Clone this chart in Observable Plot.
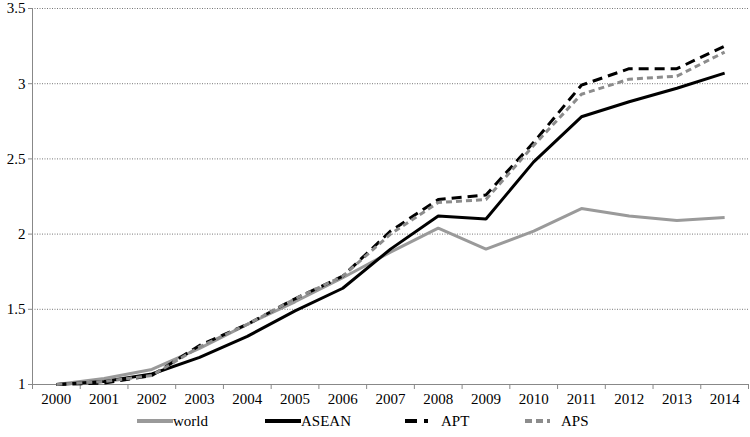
<!DOCTYPE html>
<html>
<head>
<meta charset="utf-8">
<script src="https://cdn.jsdelivr.net/npm/d3@7"></script>
<script src="https://cdn.jsdelivr.net/npm/@observablehq/plot@0.6"></script>
<style>
  body { margin: 0; background: #fff; }
  #wrap { position: relative; width: 750px; height: 437px; }
  #legend { position: absolute; left: 0; top: 410px; width: 750px; height: 27px; }
  .item { position: absolute; top: 1px; display: flex; align-items: center; color: #000; }
  .item svg { display: block; }
</style>
</head>
<body>
<div id="wrap">
  <div id="chart"></div>
  <div id="legend"></div>
</div>
<script>
const years = [2000, 2001, 2002, 2003, 2004, 2005, 2006, 2007, 2008, 2009, 2010, 2011, 2012, 2013, 2014];
const world = [1.00, 1.04, 1.10, 1.24, 1.40, 1.55, 1.71, 1.88, 2.04, 1.90, 2.02, 2.17, 2.12, 2.09, 2.11];
const asean = [1.00, 1.02, 1.07, 1.18, 1.32, 1.49, 1.64, 1.90, 2.12, 2.10, 2.48, 2.78, 2.88, 2.97, 3.07];
const apt   = [1.00, 1.01, 1.06, 1.26, 1.40, 1.57, 1.72, 2.02, 2.23, 2.26, 2.61, 2.99, 3.10, 3.10, 3.25];
const aps   = [1.00, 1.02, 1.06, 1.25, 1.40, 1.57, 1.72, 2.00, 2.21, 2.23, 2.59, 2.93, 3.03, 3.05, 3.21];
const yTicks = [1, 1.5, 2, 2.5, 3, 3.5];

const FONT = "Liberation Serif";
const seriesNames = ["world", "ASEAN", "APT", "APS"];
const seriesValues = [world, asean, apt, aps];
const styles = {
  world: {stroke: "#9a9a9a", dash: null},
  ASEAN: {stroke: "#000000", dash: null},
  APT:   {stroke: "#000000", dash: "10,6"},
  APS:   {stroke: "#8c8c8c", dash: "6,4"}
};

const boundaries = [...years.map(y => y - 0.5), years[years.length - 1] + 0.5];

const lineMarks = seriesNames.map((name, i) =>
  Plot.line(years.map((yr, j) => ({year: yr, value: seriesValues[i][j]})), {
    x: "year", y: "value",
    stroke: styles[name].stroke,
    strokeWidth: 3,
    strokeDasharray: styles[name].dash,
    strokeLinejoin: "miter",
    strokeLinecap: "butt"
  })
);

const chart = Plot.plot({
  width: 750,
  height: 410,
  marginTop: 8,
  marginBottom: 26,
  marginLeft: 32,
  marginRight: 2,
  style: {fontFamily: FONT, fontSize: "15px", color: "#000", background: "#fff"},
  x: {domain: [years[0] - 0.5, years[years.length - 1] + 0.5]},
  y: {domain: [1, 3.5]},
  marks: [
    Plot.gridY(yTicks.slice(1), {stroke: "#777", strokeOpacity: 1, strokeDasharray: "1,1.5", strokeWidth: 1}),
    Plot.ruleY([1], {stroke: "#888", strokeWidth: 1}),
    Plot.ruleX([years[0] - 0.5], {stroke: "#888", strokeWidth: 1}),
    Plot.axisY({ticks: yTicks, tickSize: 4, tickPadding: 3, stroke: "#888", tickFormat: d => String(d), fill: "#000", label: null, fontFamily: FONT, fontSize: 15}),
    Plot.axisX({ticks: boundaries, tickSize: 5, stroke: "#888", tickFormat: () => "", label: null}),
    Plot.axisX({ticks: years, tickSize: 0, tickPadding: 9, tickFormat: d => String(d), fill: "#000", label: null, fontFamily: FONT, fontSize: 15}),
    ...lineMarks
  ]
});
d3.select(chart).selectAll("text").style("font-family", "'Liberation Serif'").style("font-size", "15px");
document.getElementById("chart").appendChild(chart);

// Legend
const legend = document.getElementById("legend");
const legendPos = {world: 137, ASEAN: 265, APT: 405, APS: 525};
seriesNames.forEach(name => {
  const item = document.createElement("div");
  item.className = "item";
  item.style.left = legendPos[name] + "px";
  const svg = d3.create("svg").attr("width", 36).attr("height", 20);
  const st = styles[name];
  let dash = st.dash;
  if (name === "APT") dash = "12,7,4,20";
  if (name === "APS") dash = "7,4,7,4,3,20";
  svg.append("line").attr("x1", 0).attr("x2", 36).attr("y1", 10).attr("y2", 10)
    .attr("stroke", st.stroke).attr("stroke-width", 4)
    .attr("stroke-dasharray", dash);
  item.appendChild(svg.node());
  const t = document.createElement("span");
  t.textContent = name;
  t.style.fontFamily = "'Liberation Serif'";
  t.style.fontSize = "15px";
  item.appendChild(t);
  legend.appendChild(item);
});
</script>
</body>
</html>
